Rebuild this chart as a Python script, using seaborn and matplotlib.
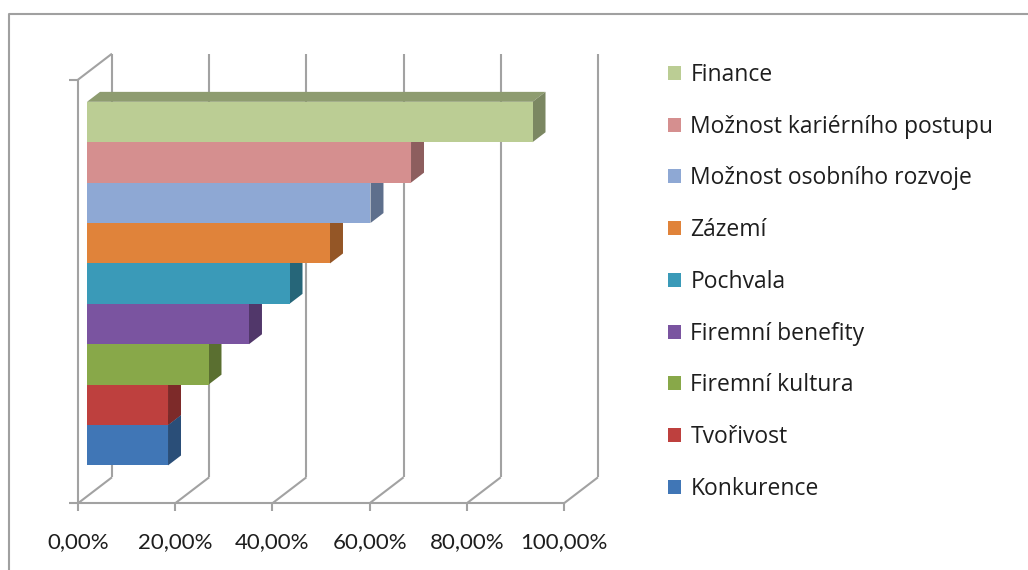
import matplotlib
matplotlib.use("Agg")
import matplotlib.pyplot as plt
from matplotlib.patches import Polygon, Patch
from matplotlib.lines import Line2D
from matplotlib.colors import to_rgb
import pandas as pd
import seaborn as sns

# Survey results: share of respondents naming each motivation factor
categories = [
    "Finance",
    "Možnost kariérního postupu",
    "Možnost osobního rozvoje",
    "Zázemí",
    "Pochvala",
    "Firemní benefity",
    "Firemní kultura",
    "Tvořivost",
    "Konkurence",
]
shares = [91.67, 66.67, 58.33, 50.00, 41.67, 33.33, 25.00, 16.67, 16.67]
colors = ["#BBCD94", "#D58F8F", "#8EA8D4", "#E0833A", "#3A9AB8",
          "#7A54A0", "#88A849", "#BE403E", "#4076B6"]
tick_values = [0, 20, 40, 60, 80, 100]
tick_labels = ["0,00%", "20,00%", "40,00%", "60,00%", "80,00%", "100,00%"]

W_PX, H_PX = 1028, 570
FS = 16
FS_LEGEND = 16.5
TEXT_COLOR = "#1E1E1E"
GRID_COLOR = "#A2A2A2"

sns.set_style("white")
plt.rcParams["font.family"] = ["Lato", "DejaVu Sans"]

fig = plt.figure(figsize=(W_PX / 100, H_PX / 100), dpi=100)
ax = fig.add_axes([0, 0, 1, 1])

df = pd.DataFrame({"factor": categories, "share": shares})
sns.barplot(data=df, x="share", y="factor", hue="factor", order=categories,
            hue_order=categories, palette=colors, orient="h", width=1.0,
            saturation=1, linewidth=0, legend=False, ax=ax)

# data <-> pixel layout of the front bar plane
PX_PER_PCT = 4.86
PX_PER_ROW = 40.4
X0_PX = 87
Y0_PX = 122
ax.set_xlim(-X0_PX / PX_PER_PCT, (W_PX - X0_PX) / PX_PER_PCT)
ax.set_ylim((H_PX - Y0_PX) / PX_PER_ROW, -Y0_PX / PX_PER_ROW)
ax.set_axis_off()

# oblique projection of depth (full box depth vector, in data units)
DEPTH_X = 34 / PX_PER_PCT
DEPTH_Y = -26 / PX_PER_ROW
Z_FRONT, Z_BACK = -0.265, 0.735
BAR_DEPTH = 0.382
Y_FLOOR = 9.267
Y_TOP = -1.218


def proj(x, y, z):
    return (x + z * DEPTH_X, y + z * DEPTH_Y)


def shade(color, f):
    r, g, b = to_rgb(color)
    return (r * f, g * f, b * f)


def seg(p, q, **kw):
    ax.add_line(Line2D([p[0], q[0]], [p[1], q[1]], color=GRID_COLOR,
                       lw=1.5, solid_capstyle="butt", zorder=1, **kw))


# walls and floor
for v in tick_values:
    seg(proj(v, Y_TOP, Z_BACK), proj(v, Y_FLOOR, Z_BACK))
    seg(proj(v, Y_FLOOR, Z_FRONT), proj(v, Y_FLOOR, Z_BACK))
    fx, fy = proj(v, Y_FLOOR, Z_FRONT)
    seg((fx, fy), (fx, fy + 8 / PX_PER_ROW))
seg(proj(tick_values[0], Y_FLOOR, Z_FRONT), proj(tick_values[-1], Y_FLOOR, Z_FRONT))
seg(proj(0, Y_TOP, Z_FRONT), proj(0, Y_FLOOR, Z_FRONT))
seg(proj(0, Y_TOP, Z_FRONT), proj(0, Y_TOP, Z_BACK))
for yy in (Y_TOP, Y_FLOOR):
    px, py = proj(0, yy, Z_FRONT)
    seg((px - 9 / PX_PER_PCT, py), (px, py))

# tick labels along the front edge of the floor
label_y = (542 - Y0_PX) / PX_PER_ROW
for v, lab in zip(tick_values, tick_labels):
    ax.text(proj(v, Y_FLOOR, Z_FRONT)[0], label_y, lab, ha="center",
            va="center", fontsize=FS, color=TEXT_COLOR)

# give the bars their top and side faces
n = len(categories)
for patch in ax.patches:
    idx = int(round(patch.get_y() + patch.get_height() / 2))
    v = shares[idx]
    col = colors[idx]
    base = 10 + (n - idx)
    patch.set_zorder(base + 0.5)
    top = Polygon([proj(0, idx - 0.5, 0), proj(v, idx - 0.5, 0),
                   proj(v, idx - 0.5, BAR_DEPTH), proj(0, idx - 0.5, BAR_DEPTH)],
                  closed=True, facecolor=shade(col, 0.76), edgecolor="none",
                  zorder=base)
    side = Polygon([proj(v, idx + 0.5, 0), proj(v, idx - 0.5, 0),
                    proj(v, idx - 0.5, BAR_DEPTH), proj(v, idx + 0.5, BAR_DEPTH)],
                   closed=True, facecolor=shade(col, 0.66), edgecolor="none",
                   zorder=base)
    ax.add_patch(top)
    ax.add_patch(side)

# legend
handles = [Patch(facecolor=c, edgecolor="none") for c in colors]
fig.legend(handles, categories, loc="upper left",
           bbox_to_anchor=(668 / W_PX, 1 - 63 / H_PX), frameon=False,
           prop={"family": ["Open Sans", "DejaVu Sans"], "size": FS_LEGEND},
           handlelength=0.56, handleheight=0.56,
           handletextpad=0.42, labelspacing=1.21, borderpad=0,
           borderaxespad=0, labelcolor=TEXT_COLOR)

# chart area border
fig.add_artist(Line2D([9 / W_PX, 9 / W_PX, 1.0], [0, 1 - 14 / H_PX, 1 - 14 / H_PX],
                      transform=fig.transFigure, color="#A0A0A0", lw=1.5))

fig.savefig("out.png", dpi=100)
